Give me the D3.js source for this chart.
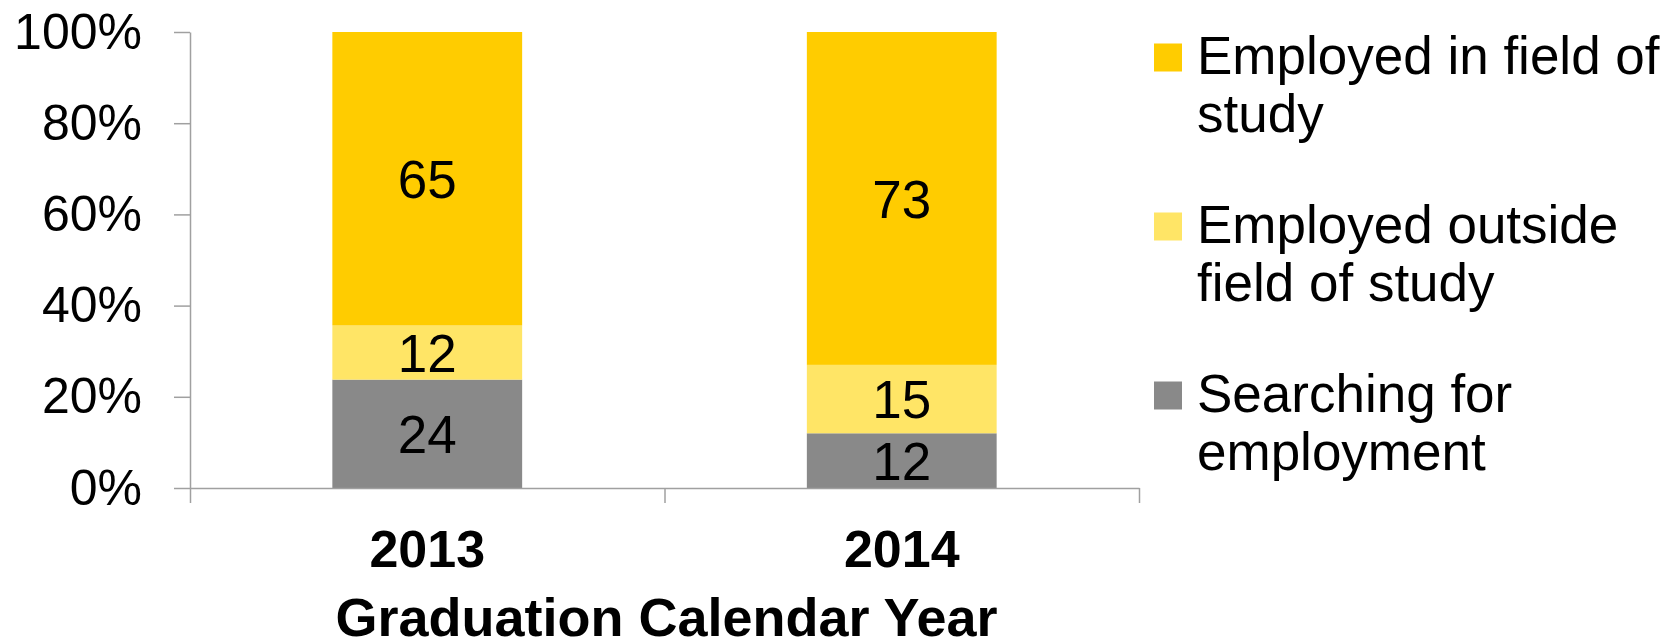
<!DOCTYPE html>
<html>
<head>
<meta charset="utf-8">
<script src="https://d3js.org/d3.v7.min.js"></script>
<style>
  body { margin: 0; background: #fff; }
  svg { display: block; font-family: "Liberation Sans", Arial, sans-serif; }
  .axis path, .axis line { stroke: #a0a0a0; stroke-width: 1.5px; }
</style>
</head>
<body>
<div id="chartHere"></div>
<script>
// data
var years = ["2013", "2014"];
var seriesNames = ["Searching for employment", "Employed outside field of study", "Employed in field of study"];
var searching = [24, 12];
var outside   = [12, 15];
var inField   = [65, 73];
var colors = ["#898989", "#ffe566", "#ffcc00"];
var yTicks = [0, 0.2, 0.4, 0.6, 0.8, 1];
var legendLines = [["Employed in field of", "study"], ["Employed outside", "field of study"], ["Searching for", "employment"]];

var dims = {width: 1674, height: 640};
var margin = {top: 32, left: 190, right: 535, bottom: 152};

var svg = d3.select("#chartHere").append("svg")
    .attr("width", dims.width)
    .attr("height", dims.height);

// build rows for the stack
var rows = years.map(function (y, i) {
  return {year: y, s0: searching[i], s1: outside[i], s2: inField[i]};
});
var stack = d3.stack().keys(["s0", "s1", "s2"]).offset(d3.stackOffsetExpand);
var layers = stack(rows);

var x = d3.scaleBand()
    .domain(years)
    .range([margin.left, dims.width - margin.right]);

var xEdges = d3.scaleLinear()
    .domain([0, years.length])
    .range([margin.left, dims.width - margin.right]);

var y = d3.scaleLinear()
    .domain([0, 1])
    .range([dims.height - margin.bottom, margin.top]);

var barW = x.bandwidth() * 0.4;
var barOff = x.bandwidth() * 0.3;

// bars
var g = svg.selectAll("g.layer")
    .data(layers).enter().append("g")
    .attr("class", "layer")
    .attr("fill", function (d, i) { return colors[i]; });

g.selectAll("rect")
    .data(function (d) { return d; })
    .enter().append("rect")
    .attr("x", function (d) { return x(d.data.year) + barOff; })
    .attr("width", barW)
    .attr("y", function (d) { return y(d[1]); })
    .attr("height", function (d) { return y(d[0]) - y(d[1]); });

// value labels
g.each(function (layer, li) {
  d3.select(this).selectAll("text")
    .data(layer).enter().append("text")
    .attr("x", function (d) { return x(d.data.year) + x.bandwidth() / 2; })
    .attr("y", function (d) { return (y(d[0]) + y(d[1])) / 2; })
    .attr("dy", "0.36em")
    .attr("text-anchor", "middle")
    .attr("fill", "#000")
    .style("font-size", "53px")
    .text(function (d) { return d.data[layer.key]; });
});

// y axis
var yAxis = d3.axisLeft(y)
    .tickValues(yTicks)
    .tickFormat(d3.format(".0%"))
    .tickSize(16)
    .tickSizeOuter(0)
    .tickPadding(32);
var ya = svg.append("g")
    .attr("class", "axis")
    .attr("transform", "translate(" + margin.left + ",0)")
    .call(yAxis);
ya.selectAll("text").style("font-size", "50px").attr("fill", "#000");

// x axis: ticks at category edges
var xAxis = d3.axisBottom(xEdges)
    .tickValues(d3.range(years.length + 1))
    .tickFormat("")
    .tickSize(15)
    .tickSizeOuter(0);
svg.append("g")
    .attr("class", "axis")
    .attr("transform", "translate(0," + (dims.height - margin.bottom) + ")")
    .call(xAxis);

// year labels
svg.selectAll("text.year")
    .data(years).enter().append("text")
    .attr("class", "year")
    .attr("x", function (d) { return x(d) + x.bandwidth() / 2; })
    .attr("y", 567)
    .attr("text-anchor", "middle")
    .style("font-size", "52px")
    .style("font-weight", "bold")
    .text(function (d) { return d; });

// axis title
svg.append("text")
    .attr("x", (margin.left + dims.width - margin.right) / 2 + 2)
    .attr("y", 636)
    .attr("text-anchor", "middle")
    .style("font-size", "54px")
    .style("font-weight", "bold")
    .text("Graduation Calendar Year");

// legend
var legColors = [colors[2], colors[1], colors[0]];
var leg = svg.selectAll("g.leg")
    .data(legendLines).enter().append("g")
    .attr("class", "leg")
    .attr("transform", function (d, i) { return "translate(1154," + (73.5 + i * 169) + ")"; });

leg.append("rect")
    .attr("x", 0)
    .attr("y", -30)
    .attr("width", 28)
    .attr("height", 28)
    .attr("fill", function (d, i) { return legColors[i]; });

leg.append("text")
    .attr("x", 43)
    .style("font-size", "53px")
    .selectAll("tspan")
    .data(function (d) { return d; })
    .enter().append("tspan")
    .attr("x", 43)
    .attr("dy", function (d, i) { return i === 0 ? 0 : 58; })
    .text(function (d) { return d; });
</script>
</body>
</html>
